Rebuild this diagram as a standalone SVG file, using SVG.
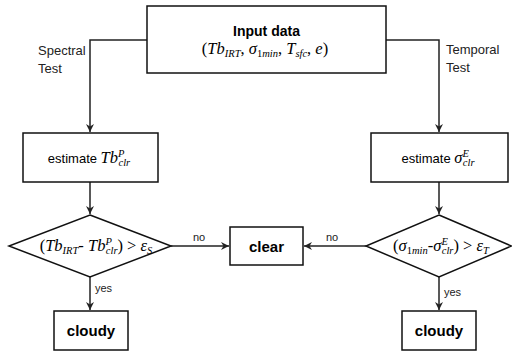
<svg xmlns="http://www.w3.org/2000/svg" width="512" height="352" viewBox="0 0 512 352">
<style>
.box{fill:#fff;stroke:#111;stroke-width:1.5}
.lbl{font-family:"Liberation Sans",Arial,sans-serif;font-size:13px;fill:#222}
.sm{font-family:"Liberation Sans",Arial,sans-serif;font-size:11px;fill:#222}
.bold{font-family:"Liberation Sans",Arial,sans-serif;font-size:15px;font-weight:bold;fill:#000}
.math{font-family:"Liberation Serif","Times New Roman",serif;font-size:16.5px;fill:#000}
.it{font-style:italic}
.sub{font-size:10.5px;font-style:italic}
.con{fill:none;stroke:#222;stroke-width:1.5}
</style>
<defs>
<marker id="ah" markerUnits="userSpaceOnUse" markerWidth="10" markerHeight="10" refX="9" refY="5" orient="auto">
<path d="M1,1 L9,5 L1,9 L3.5,5 z" fill="#222"/>
</marker>
</defs>
<g id="connectors">
<path class="con" d="M147,40 H90 V132" marker-end="url(#ah)"/>
<path class="con" d="M386,40 H439 V132" marker-end="url(#ah)"/>
<path class="con" d="M90,182 V214" marker-end="url(#ah)"/>
<path class="con" d="M439,182 V214" marker-end="url(#ah)"/>
<path class="con" d="M171,246 H229" marker-end="url(#ah)"/>
<path class="con" d="M366,246 H304" marker-end="url(#ah)"/>
<path class="con" d="M90,277 V310" marker-end="url(#ah)"/>
<path class="con" d="M439,277 V310" marker-end="url(#ah)"/>
<text class="lbl" x="38" y="55">Spectral</text>
<text class="lbl" x="38" y="73">Test</text>
<text class="lbl" x="446" y="54">Temporal</text>
<text class="lbl" x="446" y="72">Test</text>
<text class="sm" x="193" y="241">no</text>
<text class="sm" x="326" y="241">no</text>
<text class="sm" x="95" y="292">yes</text>
<text class="sm" x="444" y="296">yes</text>
</g>
<g id="input">
<rect class="box" x="147" y="6" width="239" height="67"/>
<text class="bold" x="266.5" y="36" text-anchor="middle" style="font-size:14px">Input data</text>
<text class="math" x="265" y="54" text-anchor="middle">(<tspan class="it">Tb</tspan><tspan class="sub" dy="3">IRT</tspan><tspan dy="-3">, </tspan><tspan class="it">σ</tspan><tspan class="sub" style="font-style:normal" dy="3">1</tspan><tspan class="sub">min</tspan><tspan dy="-3">, </tspan><tspan class="it">T</tspan><tspan class="sub" dy="3">sfc</tspan><tspan dy="-3">, </tspan><tspan class="it">e</tspan>)</text>
</g>
<g id="estimateTb">
<rect class="box" x="23" y="133" width="135" height="49"/>
<text x="89" y="163" text-anchor="middle"><tspan class="lbl" style="fill:#000">estimate </tspan><tspan class="math it">Tb</tspan><tspan class="math sub" dy="-6">P</tspan><tspan class="math sub" dx="-6" dy="9">clr</tspan></text>
</g>
<g id="estimateSigma">
<rect class="box" x="371" y="133" width="137" height="49"/>
<text x="438" y="163" text-anchor="middle"><tspan class="lbl" style="fill:#000">estimate </tspan><tspan class="math it">σ</tspan><tspan class="math sub" dy="-6">E</tspan><tspan class="math sub" dx="-6" dy="9">clr</tspan></text>
</g>
<g id="spectralTest">
<polygon class="box" points="90,215 171,246 90,277 9,246"/>
<text class="math" x="96" y="251" text-anchor="middle">(<tspan class="it">Tb</tspan><tspan class="sub" dy="3">IRT</tspan><tspan dy="-3">- </tspan><tspan class="it">Tb</tspan><tspan class="sub" dy="-6">P</tspan><tspan class="sub" dx="-6" dy="9">clr</tspan><tspan dy="-3">) &gt; </tspan><tspan class="it">ε</tspan><tspan class="sub" dy="3">S</tspan></text>
</g>
<g id="temporalTest">
<polygon class="box" points="439,215 511.5,246 439,277 366,246"/>
<text class="math" x="441" y="251" text-anchor="middle">(<tspan class="it">σ</tspan><tspan class="sub" style="font-style:normal" dy="3">1</tspan><tspan class="sub">min</tspan><tspan dy="-3">-</tspan><tspan class="it">σ</tspan><tspan class="sub" dy="-6">E</tspan><tspan class="sub" dx="-6" dy="9">clr</tspan><tspan dy="-3">) &gt; </tspan><tspan class="it">ε</tspan><tspan class="sub" dy="3">T</tspan></text>
</g>
<g id="clear">
<rect class="box" x="230" y="227" width="73" height="38"/>
<text class="bold" x="266.5" y="251.5" text-anchor="middle">clear</text>
</g>
<g id="cloudyLeft">
<rect class="box" x="54" y="311" width="74" height="39"/>
<text class="bold" x="91" y="336" text-anchor="middle">cloudy</text>
</g>
<g id="cloudyRight">
<rect class="box" x="402" y="311" width="74" height="39"/>
<text class="bold" x="439" y="336" text-anchor="middle">cloudy</text>
</g>
</svg>
